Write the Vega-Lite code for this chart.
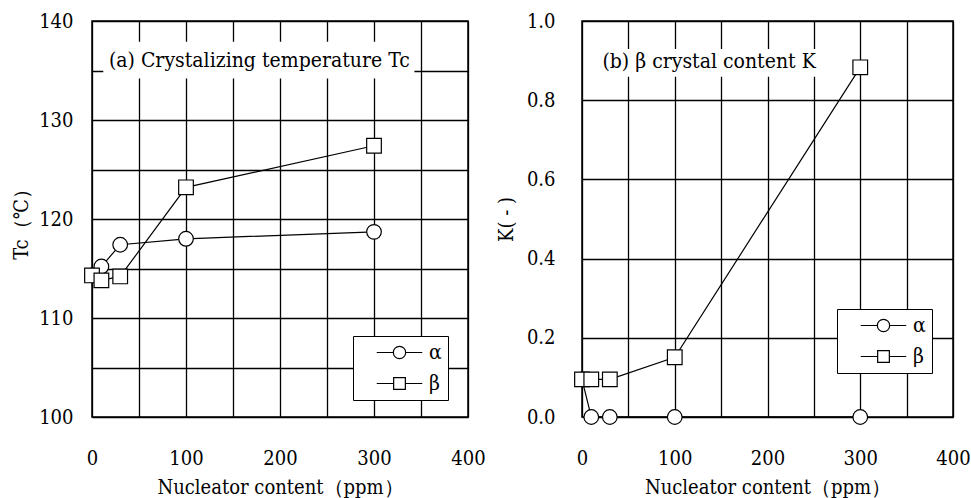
{
  "$schema": "https://vega.github.io/schema/vega-lite/v6.json",
  "background": "white",
  "padding": {"left": 10, "top": 10, "right": 5, "bottom": 0},
  "datasets": {
    "tc": [
      {"ppm": 0, "value": 114.3, "series": "α"},
      {"ppm": 10, "value": 115.2, "series": "α"},
      {"ppm": 30, "value": 117.4, "series": "α"},
      {"ppm": 100, "value": 118.0, "series": "α"},
      {"ppm": 300, "value": 118.7, "series": "α"},
      {"ppm": 0, "value": 114.3, "series": "β"},
      {"ppm": 10, "value": 113.8, "series": "β"},
      {"ppm": 30, "value": 114.2, "series": "β"},
      {"ppm": 100, "value": 123.2, "series": "β"},
      {"ppm": 300, "value": 127.4, "series": "β"}
    ],
    "k": [
      {"ppm": 0, "value": 0.095, "series": "α"},
      {"ppm": 10, "value": 0.0, "series": "α"},
      {"ppm": 30, "value": 0.0, "series": "α"},
      {"ppm": 100, "value": 0.0, "series": "α"},
      {"ppm": 300, "value": 0.0, "series": "α"},
      {"ppm": 0, "value": 0.095, "series": "β"},
      {"ppm": 10, "value": 0.095, "series": "β"},
      {"ppm": 30, "value": 0.095, "series": "β"},
      {"ppm": 100, "value": 0.151, "series": "β"},
      {"ppm": 300, "value": 0.883, "series": "β"}
    ],
    "one": [{"note": 1}]
  },
  "spacing": 9,
  "resolve": {"scale": {"shape": "independent", "x": "independent", "y": "independent"}, "legend": {"shape": "independent"}},
  "hconcat": [
    {
      "width": 376,
      "height": 396,
      "data": {"name": "tc"},
      "resolve": {"scale": {"shape": "independent"}, "legend": {"shape": "independent"}},
      "layer": [
        {
          "data": {"name": "one"},
          "mark": {"type": "rect", "fill": "white"},
          "encoding": {
            "x": {"datum": 12, "type": "quantitative", "scale": {"domain": [0, 400], "nice": false}, "axis": {"values": [0, 50, 100, 150, 200, 250, 300, 350, 400], "labelExpr": "datum.value % 100 === 0 ? datum.label : ''", "title": "Nucleator content（ppm）", "labelPadding": 31, "titlePadding": 9}},
            "x2": {"datum": 343},
            "y": {"datum": 137.9, "type": "quantitative", "scale": {"domain": [100, 140], "nice": false, "zero": false}, "axis": {"values": [100, 105, 110, 115, 120, 125, 130, 135, 140], "labelExpr": "datum.value % 10 === 0 ? datum.label : ''", "title": "Tc（℃）", "labelPadding": 19, "titlePadding": 7}},
            "y2": {"datum": 134.2}
          }
        },
        {
          "data": {"name": "one"},
          "mark": {"type": "text", "fontSize": 21, "align": "center", "baseline": "middle", "color": "black"},
          "encoding": {
            "x": {"datum": 178, "type": "quantitative"},
            "y": {"datum": 136, "type": "quantitative"},
            "text": {"value": "(a) Crystalizing temperature Tc"}
          }
        },
        {
          "mark": {"type": "line", "color": "black", "strokeWidth": 1.2},
          "encoding": {
            "x": {"field": "ppm", "type": "quantitative"},
            "y": {"field": "value", "type": "quantitative"},
            "detail": {"field": "series"}
          }
        },
        {
          "mark": {"type": "point", "filled": true, "fill": "white", "stroke": "black", "strokeWidth": 1.2, "opacity": 1, "size": 215},
          "encoding": {
            "x": {"field": "ppm", "type": "quantitative"},
            "y": {"field": "value", "type": "quantitative"},
            "shape": {"field": "series", "type": "nominal", "scale": {"domain": ["α", "β"], "range": ["circle", "square"]}, "legend": null}
          }
        },
        {
          "transform": [{"filter": "datum.ppm < 0"}],
          "mark": {"type": "point", "filled": false, "color": "black", "strokeWidth": 1.2, "opacity": 1, "size": 169},
          "encoding": {
            "x": {"field": "ppm", "type": "quantitative"},
            "y": {"field": "value", "type": "quantitative"},
            "shape": {
              "field": "series", "type": "nominal",
              "scale": {"domain": ["α", "β"], "range": ["M-3.5,0H-0.95M0.95,0H3.5M-0.95,0A0.95,0.95 0 1,1 0.95,0A0.95,0.95 0 1,1 -0.95,0Z", "M-3.5,0H-0.9M0.9,0H3.5M-0.9,-0.9H0.9V0.9H-0.9Z"]},
              "legend": {
                "orient": "none", "legendX": 261, "legendY": 315, "title": null,
                "strokeColor": "black", "fillColor": "white", "padding": 6,
                "symbolSize": 169, "symbolOffset": 30, "symbolStrokeColor": "black", "symbolFillColor": "white", "symbolStrokeWidth": 1.2, "symbolOpacity": 1,
                "labelFontSize": 21, "labelColor": "black", "labelOffset": 19, "rowPadding": 9,
                "encode": {"symbols": {"update": {"stroke": {"value": "black"}, "fill": {"value": "white"}, "strokeWidth": {"value": 1.2}, "opacity": {"value": 1}}}}
              }
            }
          }
        }
      ]
    },
    {
      "width": 371,
      "height": 396,
      "data": {"name": "k"},
      "resolve": {"scale": {"shape": "independent"}, "legend": {"shape": "independent"}},
      "layer": [
        {
          "data": {"name": "one"},
          "mark": {"type": "rect", "fill": "white"},
          "encoding": {
            "x": {"datum": 13, "type": "quantitative", "scale": {"domain": [0, 400], "nice": false}, "axis": {"values": [0, 50, 100, 150, 200, 250, 300, 350, 400], "labelExpr": "datum.value % 100 === 0 ? datum.label : ''", "title": "Nucleator content（ppm）", "labelPadding": 31, "titlePadding": 9}},
            "x2": {"datum": 261},
            "y": {"datum": 0.929, "type": "quantitative", "scale": {"domain": [0, 1], "nice": false}, "axis": {"values": [0, 0.1, 0.2, 0.3, 0.4, 0.5, 0.6, 0.7, 0.8, 0.9, 1.0], "labelExpr": "round(datum.value * 10) % 2 === 0 ? format(datum.value, '.1f') : ''", "title": "K( - )", "labelPadding": 27, "titlePadding": 10}},
            "y2": {"datum": 0.859}
          }
        },
        {
          "data": {"name": "one"},
          "mark": {"type": "text", "fontSize": 21, "align": "center", "baseline": "middle", "color": "black"},
          "encoding": {
            "x": {"datum": 137, "type": "quantitative"},
            "y": {"datum": 0.896, "type": "quantitative"},
            "text": {"value": "(b) β crystal content K"}
          }
        },
        {
          "mark": {"type": "line", "color": "black", "strokeWidth": 1.2},
          "encoding": {
            "x": {"field": "ppm", "type": "quantitative"},
            "y": {"field": "value", "type": "quantitative"},
            "detail": {"field": "series"}
          }
        },
        {
          "mark": {"type": "point", "filled": true, "fill": "white", "stroke": "black", "strokeWidth": 1.2, "opacity": 1, "size": 215},
          "encoding": {
            "x": {"field": "ppm", "type": "quantitative"},
            "y": {"field": "value", "type": "quantitative"},
            "shape": {"field": "series", "type": "nominal", "scale": {"domain": ["α", "β"], "range": ["circle", "square"]}, "legend": null}
          }
        },
        {
          "transform": [{"filter": "datum.ppm < 0"}],
          "mark": {"type": "point", "filled": false, "color": "black", "strokeWidth": 1.2, "opacity": 1, "size": 169},
          "encoding": {
            "x": {"field": "ppm", "type": "quantitative"},
            "y": {"field": "value", "type": "quantitative"},
            "shape": {
              "field": "series", "type": "nominal",
              "scale": {"domain": ["α", "β"], "range": ["M-3.5,0H-0.95M0.95,0H3.5M-0.95,0A0.95,0.95 0 1,1 0.95,0A0.95,0.95 0 1,1 -0.95,0Z", "M-3.5,0H-0.9M0.9,0H3.5M-0.9,-0.9H0.9V0.9H-0.9Z"]},
              "legend": {
                "orient": "none", "legendX": 255, "legendY": 288, "title": null,
                "strokeColor": "black", "fillColor": "white", "padding": 6,
                "symbolSize": 169, "symbolOffset": 30, "symbolStrokeColor": "black", "symbolFillColor": "white", "symbolStrokeWidth": 1.2, "symbolOpacity": 1,
                "labelFontSize": 21, "labelColor": "black", "labelOffset": 19, "rowPadding": 9,
                "encode": {"symbols": {"update": {"stroke": {"value": "black"}, "fill": {"value": "white"}, "strokeWidth": {"value": 1.2}, "opacity": {"value": 1}}}}
              }
            }
          }
        }
      ]
    }
  ],
  "config": {
    "font": "DejaVu Serif Condensed, DejaVu Serif",
    "view": {"stroke": "black", "strokeWidth": 1.5},
    "axis": {
      "grid": true, "gridColor": "black", "gridOpacity": 1, "gridWidth": 1.3,
      "domain": false, "ticks": false,
      "labelFont": "DejaVu Serif Condensed, DejaVu Serif", "labelFontSize": 20, "labelColor": "black",
      "titleFont": "DejaVu Serif Condensed, DejaVu Serif", "titleFontSize": 20, "titleFontWeight": "normal", "titleColor": "black",
      "labelFlush": false, "labelOverlap": false
    },
    "legend": {"labelFont": "DejaVu Serif Condensed, DejaVu Serif"},
    "text": {"font": "DejaVu Serif Condensed, DejaVu Serif"}
  }
}
